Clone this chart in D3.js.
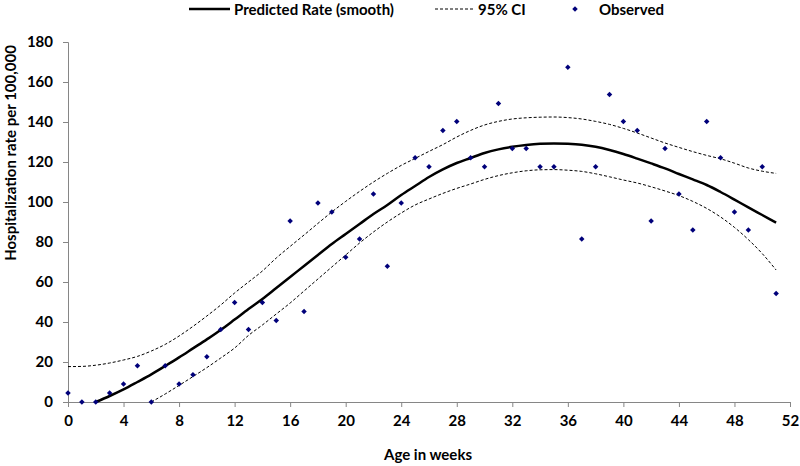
<!DOCTYPE html>
<html><head><meta charset="utf-8">
<script src="https://cdn.jsdelivr.net/npm/d3@7"></script>
<style>
html,body{margin:0;padding:0;background:#fff;}
text{font-family:Lato,"Open Sans",sans-serif;font-weight:700;fill:#000;}
</style></head>
<body><svg id="c" width="800" height="466"></svg>
<script>
// ---- data ----
const weeks = [0,1,2,3,4,5,6,7,8,9,10,11,12,13,14,15,16,17,18,19,20,21,22,23,24,25,26,27,28,29,30,31,32,33,34,35,36,37,38,39,40,41,42,43,44,45,46,47,48,49,50,51];
const observed = [4.5,0,0,4.5,9,18.1,0,18.1,9,13.6,22.6,36.2,49.8,36.2,49.8,40.7,90.5,45.2,99.5,95,72.4,81.5,104,67.9,99.5,122.1,117.6,135.7,140.2,122.1,117.6,149.3,126.7,126.7,117.6,117.6,167.4,81.5,117.6,153.8,140.2,135.7,90.5,126.7,104,86,140.2,122.1,95,86,117.6,54.3];
// predicted (smooth) starts at week 2
const predWeeks = [2,3,4,5,6,7,8,9,10,11,12,13,14,15,16,17,18,19,20,21,22,23,24,25,26,27,28,29,30,31,32,33,34,35,36,37,38,39,40,41,42,43,44,45,46,47,48,49,50,51];
const predicted = [0,3,6.3,10,13.8,18,22.3,26.8,31.3,36,41.2,46.5,51.5,57,62.5,68,73.5,79,84,89,94,98.5,103.5,108,112.5,116.3,119.5,122,124.5,126.3,127.6,128.5,129.1,129.3,129.1,128.6,127.6,126,124,121.7,119.3,116.8,114,111.3,108.5,105,101.2,97.3,93.5,89.7];
const upperCI = [17.7,17.8,18.4,19.5,21,22.8,25.5,28.8,33,37.8,43,48.5,54.5,60,65.5,72,77.8,83.5,89.3,95,100.3,105.3,110,114.3,118.3,121.8,125.3,128.7,132.5,135.8,138.5,140.3,141.5,142.1,142.4,142.5,142.2,141.5,140.3,138.8,136.8,134.5,132,129.5,127.3,125.2,123.3,121.6,119.4,117,115.4,114.3];
// lower CI starts at week 6
const lowerWeeks = [6,7,8,9,10,11,12,13,14,15,16,17,18,19,20,21,22,23,24,25,26,27,28,29,30,31,32,33,34,35,36,37,38,39,40,41,42,43,44,45,46,47,48,49,50,51];
const lowerCI = [0,4,8.3,12.7,17.2,22,27,33.3,38.5,44,49.5,55.5,61.5,67.5,73.5,79.5,85,90,94.5,98.5,101.5,104.3,106.8,109,111.3,113.2,114.6,115.6,116.1,116.2,115.9,115.3,114.1,112.6,111,109.5,107.6,105.5,103.2,100.3,96.8,92.5,87.3,81.2,74.2,66];
const xTicks = [0,4,8,12,16,20,24,28,32,36,40,44,48,52];
const yTicks = [0,20,40,60,80,100,120,140,160,180];
const legendLabels = ["Predicted Rate (smooth)","95% CI","Observed"];
const xTitle = "Age in weeks";
const yTitle = "Hospitalization rate per 100,000";

// ---- chart ----
const svg = d3.select("#c");
const x = d3.scaleLinear().domain([0,52]).range([68,790]);
const y = d3.scaleLinear().domain([0,180]).range([402,42]);
const axisColor = "#868686";

// axes
const gx = svg.append("g").attr("transform","translate(0,402)")
  .call(d3.axisBottom(x).tickValues(xTicks).tickSize(5).tickPadding(8).tickFormat(d3.format("d")));
const gy = svg.append("g").attr("transform","translate(68,0)")
  .call(d3.axisLeft(y).tickValues(yTicks).tickSize(5).tickPadding(10).tickFormat(d3.format("d")));
[gx,gy].forEach(g=>{
  g.select(".domain").attr("stroke",axisColor).attr("stroke-width",1);
  g.selectAll(".tick line").attr("stroke",axisColor);
  g.selectAll(".tick text").attr("font-size",15).attr("font-family","Lato").attr("font-weight",700).attr("fill","#000");
});

// titles
svg.append("text").attr("x",428).attr("y",460).attr("text-anchor","middle").attr("font-size",15).text(xTitle);
svg.append("text").attr("transform","translate(16,153) rotate(-90)").attr("text-anchor","middle").attr("font-size",15).text(yTitle);

// lines
const line = d3.line().curve(d3.curveMonotoneX);
svg.append("path").attr("fill","none").attr("stroke","#000").attr("stroke-width",1).attr("stroke-dasharray","3,2")
  .attr("d", line(weeks.map((w,i)=>[x(w),y(upperCI[i])])));
svg.append("path").attr("fill","none").attr("stroke","#000").attr("stroke-width",1).attr("stroke-dasharray","3,2")
  .attr("d", line(lowerWeeks.map((w,i)=>[x(w),y(lowerCI[i])])));
svg.append("path").attr("fill","none").attr("stroke","#000").attr("stroke-width",2.5)
  .attr("d", line(predWeeks.map((w,i)=>[x(w),y(predicted[i])])));

// points (small rotated squares like Excel diamonds)
const sym = d3.symbol().type(d3.symbolSquare).size(15);
svg.append("g").selectAll("path").data(weeks).join("path")
  .attr("transform",(w,i)=>`translate(${x(w)},${y(observed[i])}) rotate(45)`)
  .attr("d",sym).attr("fill","#00007a");

// legend
const lg = svg.append("g");
lg.append("line").attr("x1",189).attr("x2",230).attr("y1",9).attr("y2",9).attr("stroke","#000").attr("stroke-width",2.5);
lg.append("text").attr("x",234).attr("y",15).attr("font-size",15).text(legendLabels[0]);
lg.append("line").attr("x1",435).attr("x2",473).attr("y1",9).attr("y2",9).attr("stroke","#000").attr("stroke-width",1).attr("stroke-dasharray","3,2");
lg.append("text").attr("x",478).attr("y",15).attr("font-size",15).text(legendLabels[1]);
lg.append("path").attr("transform","translate(575,9) rotate(45)").attr("d",sym).attr("fill","#00007a");
lg.append("text").attr("x",599).attr("y",15).attr("font-size",15).text(legendLabels[2]);
</script></body></html>
